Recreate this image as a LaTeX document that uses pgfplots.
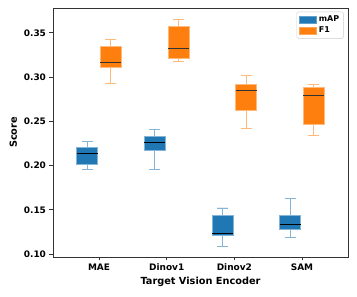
\documentclass[border=0pt]{standalone}
\usepackage{fontspec}
\setmainfont{DejaVu Sans}
\usepackage{pgfplots}
\pgfplotsset{compat=1.18}
\usepgfplotslibrary{statistics}
\definecolor{cmap}{HTML}{1F77B4}
\definecolor{cfone}{HTML}{FF7F0E}
\begin{document}
\begin{tikzpicture}
\begin{axis}[
  scale only axis,
  width=295bp, height=249bp,
  xmin=-0.68, xmax=3.68,
  ymin=0.0966, ymax=0.378,
  xtick={0,1,2,3},
  xticklabels={MAE,Dinov1,Dinov2,SAM},
  ytick={0.10,0.15,0.20,0.25,0.30,0.35},
  yticklabel style={/pgf/number format/.cd,fixed,fixed zerofill,precision=2,assume math mode=true},
  ticklabel style={font=\fontsize{9}{10}\selectfont\bfseries},
  label style={font=\fontsize{9.8}{11}\selectfont\bfseries},
  xlabel={Target Vision Encoder},
  ylabel={Score},
  xlabel style={yshift=1bp},
  tick align=outside,
  xtick pos=bottom, ytick pos=left,
  major tick length=3.5bp,
  axis line style={line width=0.8pt, black!80},
  tick style={line width=0.8pt, black!80},
  every axis plot/.append style={line width=0.9pt},
  legend style={at={(0.985,0.985)}, anchor=north east, font=\fontsize{8}{9}\selectfont\bfseries, draw=black!20, rounded corners=1.5pt, cells={anchor=west}, inner sep=2.2pt, row sep=-0.5pt},
  legend image code/.code={\draw[sharp corners,#1] (0cm,-0.12cm) rectangle (0.6cm,0.12cm);},
  boxplot/draw direction=y,
  boxplot/box extend=0.31,
  boxplot/whisker extend=0.16,
]
\addlegendimage{fill=cmap, draw=cmap!70!white}
\addlegendentry{mAP}
\addlegendimage{fill=cfone, draw=cfone!70!white}
\addlegendentry{F1}
% mAP
\addplot+[forget plot, mark=none, fill=cmap, draw=cmap!55!white, boxplot prepared={draw position=-0.175, lower whisker=0.1958, lower quartile=0.2007, median=0.2139, upper quartile=0.2207, upper whisker=0.2270, every median/.style={draw=black, line width=1pt}}] coordinates {};
\addplot+[forget plot, mark=none, fill=cmap, draw=cmap!55!white, boxplot prepared={draw position=0.825, lower whisker=0.1950, lower quartile=0.2165, median=0.2263, upper quartile=0.2327, upper whisker=0.2410, every median/.style={draw=black, line width=1pt}}] coordinates {};
\addplot+[forget plot, mark=none, fill=cmap, draw=cmap!55!white, boxplot prepared={draw position=1.825, lower whisker=0.1090, lower quartile=0.1211, median=0.1234, upper quartile=0.1430, upper whisker=0.1520, every median/.style={draw=black, line width=1pt}}] coordinates {};
\addplot+[forget plot, mark=none, fill=cmap, draw=cmap!55!white, boxplot prepared={draw position=2.825, lower whisker=0.1189, lower quartile=0.1279, median=0.1328, upper quartile=0.1434, upper whisker=0.1630, every median/.style={draw=black, line width=1pt}}] coordinates {};
% F1
\addplot+[forget plot, mark=none, fill=cfone, draw=cfone!55!white, boxplot prepared={draw position=0.175, lower whisker=0.2931, lower quartile=0.3104, median=0.3161, upper quartile=0.3342, upper whisker=0.3429, every median/.style={draw=black!80, line width=1pt}}] coordinates {};
\addplot+[forget plot, mark=none, fill=cfone, draw=cfone!55!white, boxplot prepared={draw position=1.175, lower whisker=0.3172, lower quartile=0.3206, median=0.3319, upper quartile=0.3572, upper whisker=0.3647, every median/.style={draw=black!80, line width=1pt}}] coordinates {};
\addplot+[forget plot, mark=none, fill=cfone, draw=cfone!55!white, boxplot prepared={draw position=2.175, lower whisker=0.2422, lower quartile=0.2618, median=0.2844, upper quartile=0.2912, upper whisker=0.3021, every median/.style={draw=black!80, line width=1pt}}] coordinates {};
\addplot+[forget plot, mark=none, fill=cfone, draw=cfone!55!white, boxplot prepared={draw position=3.175, lower whisker=0.2339, lower quartile=0.2467, median=0.2787, upper quartile=0.2882, upper whisker=0.2920, every median/.style={draw=black!80, line width=1pt}}] coordinates {};
\end{axis}
\path (current axis.south west) ++(-53bp,-40bp) rectangle ++(357bp,297bp);
\end{tikzpicture}
\end{document}
